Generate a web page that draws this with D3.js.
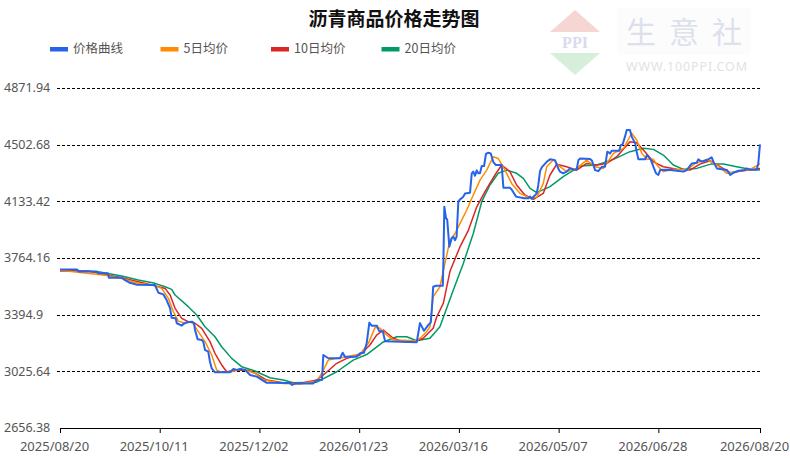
<!DOCTYPE html>
<html>
<head>
<meta charset="utf-8">
<script src="https://cdn.jsdelivr.net/npm/d3@7"></script>
<style>
  body { margin: 0; background: #fff; }
  svg text { font-family: "Noto Sans", "Noto Sans CJK SC", sans-serif; }
</style>
</head>
<body>
<div id="chart"></div>
<script>
// data ---------------------------------------------------------------------------------------
const startDay = "2025-08-20";
const endDay = "2026-08-20";
const xTickLabels = ["2025-08-20", "2025-10-11", "2025-12-02", "2026-01-23",
                     "2026-03-16", "2026-05-07", "2026-06-28", "2026-08-20"];
const yTicks = [2656.38, 3025.64, 3394.9, 3764.16, 4133.42, 4502.68, 4871.94];

const seriesNames = ["价格曲线", "5日均价", "10日均价", "20日均价"];
const seriesColors = ["#2563eb", "#ff8c00", "#dc2626", "#009a66"];

// days after 2025-08-20
const priceDays = [0, 8.9, 9.9, 19.1, 20, 25, 25.5, 32.3, 33.9, 36, 40.2, 49.5, 51.3, 53.9, 55.6, 57.4,
  58.2, 60.3, 60.9, 63.5, 64.3, 66.1, 68.8, 69.9, 70.4, 71.8, 73.9, 74.7, 75.6, 77.3, 78.2, 79.1,
  80.8, 88.6, 90.4, 92.1, 93.9, 96.5, 99.1, 102.6, 107.8, 119.9, 121, 123.1, 131.9, 134, 136.6,
  137.3, 139.9, 146, 147.4, 148.6, 154.7, 156.4, 158.5, 159.9, 161.3, 162.5, 165.3, 166.3, 168.4,
  169.5, 186, 187.7, 189.8, 192, 193.3, 193.8, 194.6, 196.1, 199.6, 199.9, 200.4, 201.3, 201.9,
  203, 204.2, 205.1, 206, 206.8, 207.7, 208.6, 210.3, 211.2, 213.8, 214.7, 215.5, 216.4, 217.3,
  218.1, 219, 219.9, 221.1, 222.1, 223.3, 224.6, 225.9, 227.3, 230.3, 231.2, 234.6, 235.5, 237.8,
  242.1, 244.2, 245.1, 245.9, 248.6, 249.4, 250.3, 251.2, 253.8, 255.5, 258.1, 259.8, 260.7,
  262.4, 264.2, 265.9, 267.7, 269.4, 270.3, 271.2, 276.4, 277.3, 279, 280.7, 282.6, 284.2, 285.4,
  286.8, 287.7, 291.6, 292.4, 293.4, 294.6, 295.5, 297.2, 298.1, 299.9, 300.7, 301.6, 305.1, 306,
  308, 309.4, 310.8, 312, 312.9, 315.5, 318.1, 321.6, 325.1, 326.8, 329.4, 332, 332.8, 334.6,
  336.3, 338, 339.8, 340.7, 342.5, 345.1, 347.8, 349.5, 351.2, 353.8, 357.2, 358.1, 359.8, 363.3,
  364.1, 365];
const priceValues = [3690, 3690, 3676, 3676, 3664, 3664, 3635, 3635, 3620, 3605, 3590, 3588, 3538,
  3527, 3490, 3436, 3375, 3371, 3339, 3323, 3334, 3345, 3349, 3340, 3295, 3234, 3230, 3219, 3165,
  3154, 3088, 3045, 3019, 3019, 3041, 3035, 3041, 3035, 3002, 2991, 2951, 2950, 2937, 2947, 2947,
  2969, 2969, 3132, 3111, 3111, 3147, 3121, 3121, 3143, 3147, 3208, 3343, 3323, 3323, 3290, 3284,
  3222, 3215, 3340, 3290, 3327, 3343, 3414, 3577, 3583, 3583, 3729, 4098, 4023, 4015, 3838, 3892,
  3903, 3880, 3903, 4131, 4146, 4164, 4185, 4190, 4316, 4327, 4300, 4335, 4316, 4316, 4363, 4363,
  4442, 4450, 4445, 4391, 4370, 4370, 4222, 4222, 4210, 4164, 4153, 4153, 4165, 4150, 4185, 4240,
  4330, 4355, 4391, 4407, 4402, 4348, 4327, 4316, 4327, 4348, 4340, 4340, 4402, 4413, 4410, 4400,
  4337, 4330, 4359, 4359, 4457, 4446, 4463, 4463, 4500, 4505, 4555, 4598, 4598, 4555, 4511, 4457,
  4407, 4407, 4435, 4407, 4359, 4316, 4305, 4337, 4340, 4337, 4333, 4327, 4337, 4380, 4385, 4407,
  4392, 4398, 4407, 4420, 4392, 4348, 4342, 4337, 4305, 4320, 4333, 4337, 4348, 4340, 4340, 4380,
  4505];

const ma5Days = [0, 23.5, 32.2, 40.8, 49.5, 53, 56.5, 59.1, 61.7, 65.2, 68.7, 72.1, 75.6, 79.1, 81.7,
  84.3, 89.5, 94.7, 101.7, 106, 116.4, 125.1, 133.9, 136.5, 139.9, 144.3, 149.5, 156.4, 160.8,
  164.3, 166.9, 170.4, 173.8, 186, 188.6, 191.2, 192.9, 194.6, 198.1, 200.7, 203.4, 206, 208.6,
  212.1, 215.5, 219, 222.5, 225.9, 228.5, 232, 235.5, 239.9, 244.2, 248.6, 252, 253.8, 257.2,
  260.7, 264.2, 269.4, 274.6, 279, 283.3, 288.6, 293.8, 298.1, 300.7, 303.4, 306, 309.4, 312,
  314.7, 319.9, 326.8, 331.1, 337.2, 342.5, 347.8, 352.8, 359.8, 364.1, 365];
const ma5Values = [3685, 3652, 3630, 3599, 3585, 3566, 3501, 3414, 3353, 3339, 3349, 3284, 3219,
  3132, 3034, 3019, 3022, 3041, 3013, 2969, 2947, 2943, 2962, 3013, 3099, 3110, 3121, 3138, 3208,
  3312, 3306, 3262, 3230, 3225, 3251, 3284, 3316, 3512, 3577, 3729, 3881, 3924, 3990, 4077, 4175,
  4272, 4337, 4424, 4413, 4337, 4250, 4185, 4159, 4160, 4250, 4359, 4405, 4359, 4327, 4348, 4402,
  4359, 4348, 4446, 4479, 4577, 4533, 4446, 4407, 4407, 4359, 4327, 4342, 4337, 4380, 4407, 4370,
  4316, 4327, 4342, 4370, 4380];

const ma10Days = [0, 14.8, 23.5, 32.2, 40.8, 49.5, 54.8, 57.4, 60, 63.5, 66.9, 70.4, 73.9, 78.2,
  80.8, 84.3, 86.9, 92.1, 98.2, 101.7, 107.8, 116.4, 125.1, 133.9, 137.3, 144.3, 149.5, 156.4,
  161.6, 165.1, 168.6, 173.8, 179, 186, 189.4, 194.6, 196.4, 199.9, 203.4, 208.6, 213, 217.3,
  221.6, 226.8, 230.3, 234.6, 238.1, 242.4, 246.8, 252, 255.5, 259, 264.2, 269.4, 274.6, 279.9,
  285.1, 290.3, 297.2, 300.7, 305, 309.4, 314.6, 321.6, 328.5, 333.7, 338.9, 344.2, 349.4, 356.3, 365];
const ma10Values = [3680, 3679, 3657, 3635, 3610, 3583, 3566, 3523, 3436, 3371, 3349, 3339, 3306,
  3219, 3143, 3067, 3023, 3034, 3032, 3013, 2969, 2951, 2947, 2969, 3002, 3078, 3110, 3132, 3197,
  3262, 3295, 3241, 3219, 3225, 3241, 3306, 3380, 3470, 3680, 3838, 3946, 4098, 4196, 4305, 4370,
  4327, 4240, 4175, 4146, 4185, 4305, 4375, 4359, 4337, 4380, 4370, 4380, 4424, 4522, 4515, 4457,
  4391, 4359, 4342, 4337, 4376, 4398, 4359, 4320, 4333, 4348];

const ma20Days = [0, 20, 32.2, 40.8, 49.5, 54.8, 58.2, 60, 66.9, 71.3, 75.6, 80.8, 84.3, 89.5, 94.7,
  101.7, 109.5, 116.4, 121.6, 133.9, 144.3, 152.9, 159.9, 168.6, 175.6, 180.8, 186, 192.9, 198.1,
  205.1, 210.3, 215.5, 219.9, 224.2, 228.5, 232.9, 238.1, 241.6, 245.1, 248.6, 255.5, 262.4,
  271.2, 279.9, 288.6, 297.2, 304.3, 309.4, 314.6, 319.8, 325.1, 332, 339.3, 346, 352.8, 359.8, 365];
const ma20Values = [3685, 3675, 3647, 3621, 3599, 3577, 3560, 3523, 3447, 3393, 3316, 3251, 3186,
  3110, 3056, 3028, 2984, 2969, 2951, 2955, 3023, 3099, 3135, 3217, 3251, 3251, 3225, 3241, 3316,
  3555, 3729, 3924, 4131, 4240, 4316, 4337, 4316, 4283, 4218, 4190, 4229, 4294, 4363, 4370, 4407,
  4457, 4479, 4472, 4435, 4370, 4342, 4348, 4376, 4376, 4359, 4342, 4337];

// chart -------------------------------------------------------------------------------------
const width = 790;
const height = 458;
const margin = { top: 88, right: 30, bottom: 30, left: 60 };

const parseDay = d3.utcParse("%Y-%m-%d");
const start = parseDay(startDay);
const dayToDate = d => new Date(start.getTime() + d * 864e5);

const svg = d3.select('#chart')
    .append('svg')
    .attr('width', width)
    .attr('height', height);

const x = d3.scaleUtc()
    .domain([start, parseDay(endDay)])
    .range([margin.left, width - margin.right]);

const y = d3.scaleLinear()
    .domain([yTicks[0], yTicks[yTicks.length - 1]])
    .range([height - margin.bottom, margin.top]);

// watermark
const wm = svg.append('g').attr('class', 'watermark');
wm.append('path')
    .attr('d', 'M575,10 L600,32 L550,32 Z')
    .attr('fill', '#f6d6d2');
wm.append('path')
    .attr('d', 'M550,53 L600,53 L575,75 Z')
    .attr('fill', '#d6efda');
wm.append('text')
    .attr('x', 575).attr('y', 47.5)
    .attr('text-anchor', 'middle')
    .attr('font-size', 16).attr('font-weight', 'bold')
    .style('font-family', '"Liberation Serif", serif')
    .attr('fill', '#d5dcee')
    .text('PPI');
wm.append('rect')
    .attr('x', 617).attr('y', 8).attr('width', 134).attr('height', 47)
    .attr('fill', '#fcfcfd');
wm.append('text')
    .attr('x', 626).attr('y', 43)
    .attr('font-size', 30)
    .attr('letter-spacing', 13)
    .attr('fill', '#dde1ec')
    .style('font-family', '"Noto Sans CJK SC", sans-serif')
    .text('生意社');
wm.append('text')
    .attr('x', 626).attr('y', 71)
    .attr('font-size', 12.5)
    .attr('textLength', 121)
    .attr('fill', '#e2e2e2')
    .text('WWW.100PPI.COM');

// title
svg.append('text')
    .attr('x', 394).attr('y', 26)
    .attr('text-anchor', 'middle')
    .attr('font-size', 19).attr('font-weight', 'bold')
    .attr('fill', '#111')
    .style('font-family', '"Noto Sans CJK SC", sans-serif')
    .text('沥青商品价格走势图');

// legend
const legend = svg.append('g')
    .selectAll('g')
    .data(seriesNames)
    .join('g')
    .attr('transform', (d, i) => `translate(${50 + i * 110.5},49)`);

legend.append('rect')
    .attr('x', 0).attr('y', -2)
    .attr('width', 18).attr('height', 4.5)
    .attr('fill', (d, i) => seriesColors[i]);

legend.append('text')
    .attr('x', 23)
    .attr('dy', '0.35em')
    .attr('font-size', 12.5)
    .attr('fill', '#555')
    .style('font-family', '"Noto Sans CJK SC", sans-serif')
    .text(d => d);

// grid lines
svg.append('g')
    .selectAll('line')
    .data(yTicks.slice(1))
    .join('line')
    .attr('x1', margin.left - 3)
    .attr('x2', width - margin.right)
    .attr('y1', d => Math.round(y(d)) + 0.5)
    .attr('y2', d => Math.round(y(d)) + 0.5)
    .attr('stroke', '#000')
    .attr('stroke-dasharray', '3,2');

// y labels
svg.append('g')
    .selectAll('text')
    .data(yTicks)
    .join('text')
    .attr('x', 4)
    .attr('y', d => y(d))
    .attr('dy', '0.35em')
    .attr('font-size', 12.5)
    .attr('fill', '#555')
    .text(d => d);

// x axis
const xAxis = svg.append('g')
    .attr('transform', `translate(0,${height - margin.bottom})`)
    .call(d3.axisBottom(x)
        .tickValues(xTickLabels.map(parseDay))
        .tickFormat(d3.utcFormat('%Y/%m/%d'))
        .tickSize(5)
        .tickSizeOuter(0));

xAxis.select('.domain').attr('stroke', '#000');
xAxis.selectAll('.tick line').attr('stroke', '#000');
xAxis.selectAll('.tick text')
    .attr('font-size', 13)
    .attr('fill', '#555')
    .attr('dx', -6)
    .attr('y', 13.5)
    .style('font-family', '"Noto Sans", sans-serif');

// lines
const line = d3.line()
    .x(d => x(dayToDate(d[0])))
    .y(d => y(d[1]));

const series = [
    { days: ma20Days, values: ma20Values, color: seriesColors[3], w: 1.5 },
    { days: ma10Days, values: ma10Values, color: seriesColors[2], w: 1.5 },
    { days: ma5Days, values: ma5Values, color: seriesColors[1], w: 1.5 },
    { days: priceDays, values: priceValues, color: seriesColors[0], w: 2 }
];

svg.append('g')
    .selectAll('path')
    .data(series)
    .join('path')
    .attr('fill', 'none')
    .attr('stroke', d => d.color)
    .attr('stroke-width', d => d.w)
    .attr('stroke-linejoin', 'round')
    .attr('d', d => line(d.days.map((v, i) => [v, d.values[i]])));
</script>
</body>
</html>
